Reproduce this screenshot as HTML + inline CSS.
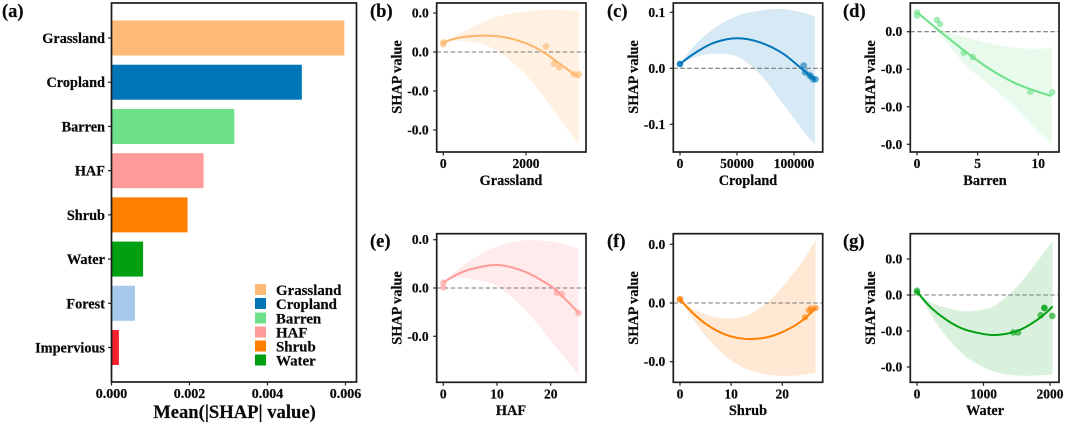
<!DOCTYPE html>
<html lang="en">
<head>
<meta charset="utf-8">
<title>SHAP chart</title>
<style>
html,body{margin:0;padding:0;background:#fff;width:1065px;height:424px;overflow:hidden}
svg{display:block;filter:blur(0.35px)}
text{font-family:"Liberation Serif",serif;font-weight:bold;fill:#0a0a0a;stroke:#0a0a0a;stroke-width:0.2}
.frame{fill:none;stroke:#1c1c1c;stroke-width:1.7}
.panel-label{font-size:18.5px}
.axis-title{font-size:14.3px;text-anchor:middle}
.legend-text{font-size:14.9px}
</style>
</head>
<body>
<svg id="chart" width="1065" height="424" viewBox="0 0 1065 424" xmlns="http://www.w3.org/2000/svg">
  <g id="panel-a">
    <g id="marks-a"></g>
    <rect class="frame" x="111.5" y="3" width="245" height="379"/>
    <text class="panel-label" x="2" y="17">(a)</text>
    <text x="234.500" y="418" font-size="18.600" text-anchor="middle">Mean(|SHAP| value)</text>
    <g>
      <g><rect x="255" y="284" width="11" height="11" fill="#fdbb77"/><text class="legend-text" x="276" y="295">Grassland</text></g>
      <g><rect x="255" y="298" width="11" height="11" fill="#0075b8"/><text class="legend-text" x="276" y="309">Cropland</text></g>
      <g><rect x="255" y="312.500" width="11" height="11" fill="#6ee08a"/><text class="legend-text" x="276" y="323.500">Barren</text></g>
      <g><rect x="255" y="326.500" width="11" height="11" fill="#ff9a9a"/><text class="legend-text" x="276" y="337.500">HAF</text></g>
      <g><rect x="255" y="340.500" width="11" height="11" fill="#ff7f00"/><text class="legend-text" x="276" y="351.500">Shrub</text></g>
      <g><rect x="255" y="354.500" width="11" height="11" fill="#00a012"/><text class="legend-text" x="276" y="365.500">Water</text></g>
    </g>
  </g>

  <g>
    <g id="marks-b"></g>
    <rect class="frame" x="436.700" y="3" width="149.300" height="149"/>
    <text class="panel-label" x="370" y="17">(b)</text>
    <text class="axis-title" x="511" y="185">Grassland</text>
    <text class="axis-title" transform="translate(401.500 77) rotate(-90)">SHAP value</text>
  </g>
  <g>
    <g id="marks-c"></g>
    <rect class="frame" x="673.300" y="3" width="149.400" height="149"/>
    <text class="panel-label" x="607" y="17">(c)</text>
    <text class="axis-title" x="748" y="185">Cropland</text>
    <text class="axis-title" transform="translate(638 77) rotate(-90)">SHAP value</text>
  </g>
  <g>
    <g id="marks-d"></g>
    <rect class="frame" x="910.300" y="3" width="148.700" height="149"/>
    <text class="panel-label" x="843" y="17">(d)</text>
    <text class="axis-title" x="985" y="185">Barren</text>
    <text class="axis-title" transform="translate(875 77) rotate(-90)">SHAP value</text>
  </g>
  <g>
    <g id="marks-e"></g>
    <rect class="frame" x="436.700" y="233.700" width="149.300" height="148.600"/>
    <text class="panel-label" x="370" y="247">(e)</text>
    <text class="axis-title" x="511" y="415">HAF</text>
    <text class="axis-title" transform="translate(401.500 308) rotate(-90)">SHAP value</text>
  </g>
  <g>
    <g id="marks-f"></g>
    <rect class="frame" x="673.300" y="233.700" width="149.400" height="148.600"/>
    <text class="panel-label" x="607" y="247">(f)</text>
    <text class="axis-title" x="748" y="415">Shrub</text>
    <text class="axis-title" transform="translate(638 308) rotate(-90)">SHAP value</text>
  </g>
  <g>
    <g id="marks-g"></g>
    <rect class="frame" x="910.300" y="233.700" width="148.700" height="148.600"/>
    <text class="panel-label" x="843" y="247">(g)</text>
    <text class="axis-title" x="985" y="415">Water</text>
    <text class="axis-title" transform="translate(875 308) rotate(-90)">SHAP value</text>
  </g>
</svg>

<script>
// Panel (a)
const barCategories = ["Grassland","Cropland","Barren","HAF","Shrub","Water","Forest","Impervious"];
const barValues = [0.00597,0.00488,0.00315,0.00236,0.00195,0.00081,0.0006,0.00019];
const barColors = ["#fdbb77","#0075b8","#6ee08a","#ff9a9a","#ff7f00","#00a012","#a6c8ea","#f5222d"];
const barXTicks = [0,0.002,0.004,0.006];

// Panel (b) Grassland
const grasslandCurveX = [0,400,1000,1500,2000,2400,2800,3280];
const grasslandCurveY = [0.00239,0.00368,0.00419,0.00376,0.00222,0.00009,-0.0029,-0.00658];
const grasslandUpper = [0.00239,0.00479,0.00786,0.00957,0.01043,0.01077,0.01077,0.01051];
const grasslandLower = [0.00239,0.00291,0.00179,-0.0012,-0.0059,-0.01103,-0.01701,-0.02368];
const grasslandPointX = [0,0,2484,2677,2806,3161,3282];
const grasslandPointY = [0.00248,0.00197,0.00145,-0.00299,-0.00393,-0.00573,-0.00573];
const grasslandXTicks = [0,2000];
const grasslandYTicks = [0.01,0,-0.01,-0.02];

// Panel (c) Cropland
const croplandCurveX = [0,15000,30000,50000,70000,90000,108000,118500];
const croplandCurveY = [0.0077,0.0298,0.0458,0.0536,0.0464,0.0268,-0.003,-0.0208];
const croplandUpper = [0.0077,0.0458,0.0714,0.0935,0.103,0.106,0.0994,0.0923];
const croplandLower = [0.0077,0.0208,0.0262,0.0208,-0.0101,-0.0625,-0.1113,-0.1369];
const croplandPointX = [0,0,108480,109650,113450,114910,116960,119000];
const croplandPointY = [0.0077,0.0077,0.0048,-0.0071,-0.0119,-0.0149,-0.0196,-0.0196];
const croplandXTicks = [0,50000,100000];
const croplandYTicks = [0.1,0,-0.1];

// Panel (d) Barren
const barrenCurveX = [0,1,2,4,6,8,10,11.1];
const barrenCurveY = [0.00523,0.00248,-0.00018,-0.00532,-0.00994,-0.01358,-0.01606,-0.01712];
const barrenUpper = [0.00523,0.00293,0.00062,-0.00151,-0.00311,-0.00426,-0.00453,-0.00417];
const barrenLower = [0.00523,0.00222,-0.00115,-0.00887,-0.0142,-0.01996,-0.02662,-0.03];
const barrenPointX = [0,0,1.65,1.9,3.85,4.59,9.34,11.15];
const barrenPointY = [0.00515,0.00426,0.00311,0.00204,-0.00559,-0.00674,-0.01606,-0.01615];
const barrenXTicks = [0,5,10];
const barrenYTicks = [0,-0.01,-0.02,-0.03];

// Panel (e) HAF
const hafCurveX = [0,2.5,5,10,15,20,22,25.2];
const hafCurveY = [0.0011,0.00276,0.00386,0.00476,0.00345,0.00041,-0.00152,-0.00517];
const hafUpper = [0.0011,0.00366,0.00572,0.00862,0.00986,0.00966,0.00917,0.00814];
const hafLower = [0.0011,0.00207,0.00193,0.00041,-0.00428,-0.01083,-0.01359,-0.01807];
const hafPointX = [0,0,21.1,22.05,25.2];
const hafPointY = [0.0011,0.00014,-0.00097,-0.00124,-0.00517];
const hafXTicks = [0,10,20];
const hafYTicks = [0.01,0,-0.01];

// Panel (f) Shrub
const shrubCurveX = [0,2.5,5,8,11,14,18,22,24.5,26.5];
const shrubCurveY = [0.00063,-0.0017,-0.00352,-0.00506,-0.00591,-0.00614,-0.00562,-0.00409,-0.00256,-0.00085];
const shrubUpper = [0.00063,-0.00097,-0.00193,-0.00256,-0.00256,-0.0017,0.00085,0.00483,0.00784,0.01068];
const shrubLower = [0.00063,-0.00267,-0.00563,-0.00835,-0.01034,-0.01159,-0.01233,-0.01239,-0.01216,-0.01188];
const shrubPointX = [0,0,24.43,25.21,25.6,26.5];
const shrubPointY = [0.00063,0.00063,-0.00244,-0.00125,-0.00097,-0.00085];
const shrubXTicks = [0,10,20];
const shrubYTicks = [0.01,0,-0.01];

// Panel (g) Water
const waterCurveX = [0,200,400,600,800,1150,1500,1800,2040];
const waterCurveY = [0.00101,-0.00331,-0.00635,-0.00865,-0.01003,-0.01113,-0.01003,-0.00699,-0.00313];
const waterUpper = [0.00101,-0.00193,-0.00331,-0.00423,-0.00451,-0.00313,0.00221,0.00911,0.01509];
const waterLower = [0.00101,-0.00515,-0.01067,-0.01481,-0.01803,-0.02125,-0.02236,-0.02236,-0.02199];
const waterPointX = [0,0,1449,1519,1860,1915,1915,2035];
const waterPointY = [0.0012,0.00074,-0.0104,-0.0104,-0.00561,-0.00359,-0.00359,-0.0058];
const waterXTicks = [0,1000,2000];
const waterYTicks = [0.01,0,-0.01,-0.02];

const NS = "http://www.w3.org/2000/svg";
function scale(d0, d1, r0, r1) {
  return function (v) { return r0 + (v - d0) * (r1 - r0) / (d1 - d0); };
}
function make(parent, tag, attrs, name, txt) {
  const el = document.createElementNS(NS, tag);
  for (const k in attrs) el.setAttribute(k, attrs[k]);
  
  
  if (txt !== undefined) el.textContent = txt;
  parent.appendChild(el);
  return el;
}
// Hermite spline through the sampled points, with slopes taken along x.
function smooth(pts, move) {
  const n = pts.length;
  const m = [];
  for (let i = 1; i < n - 1; i++) {
    m[i] = (pts[i + 1][1] - pts[i - 1][1]) / (pts[i + 1][0] - pts[i - 1][0]);
  }
  m[0] = 2 * (pts[1][1] - pts[0][1]) / (pts[1][0] - pts[0][0]) - m[1];
  m[n - 1] = 2 * (pts[n - 1][1] - pts[n - 2][1]) / (pts[n - 1][0] - pts[n - 2][0]) - m[n - 2];
  let d = (move ? "M" : "L") + pts[0][0].toFixed(2) + " " + pts[0][1].toFixed(2);
  for (let i = 0; i < n - 1; i++) {
    const dx = (pts[i + 1][0] - pts[i][0]) / 3;
    d += "C" + (pts[i][0] + dx).toFixed(2) + " " + (pts[i][1] + m[i] * dx).toFixed(2) + " " +
      (pts[i + 1][0] - dx).toFixed(2) + " " + (pts[i + 1][1] - m[i + 1] * dx).toFixed(2) + " " +
      pts[i + 1][0].toFixed(2) + " " + pts[i + 1][1].toFixed(2);
  }
  return d;
}

// Bars
(function () {
  const g = document.getElementById("marks-a");
  const x = scale(0, 0.006, 111.5, 345.5);
  const rowCenter = scale(0, 7, 38, 347.5);
  barCategories.forEach(function (c, i) {
    const y = rowCenter(i);
    make(g, "rect", { x: x(0), y: y - 17.5, width: x(barValues[i]) - x(0), height: 35, fill: barColors[i] }, "bar-" + c.toLowerCase());
    make(g, "line", { x1: 108, x2: 111.5, y1: y, y2: y, stroke: "#222", "stroke-width": 1.2 }, "y-tick-" + c.toLowerCase());
    make(g, "text", { x: 105, y: y + 5, "text-anchor": "end", "font-size": 14.3 }, "y-label-" + c.toLowerCase(), c);
  });
  barXTicks.forEach(function (t) {
    make(g, "line", { x1: x(t), x2: x(t), y1: 382, y2: 385.5, stroke: "#222", "stroke-width": 1.2 }, "x-tick");
    make(g, "text", { x: x(t), y: 398, "text-anchor": "middle", "font-size": 14 }, "x-tick-label", t.toFixed(3));
  });
})();

// Dependence panels
function drawPanel(o) {
  const g = document.getElementById(o.id);
  const x = scale(o.xd[0], o.xd[1], o.xr[0], o.xr[1]);
  const y = scale(o.yd[0], o.yd[1], o.yr[0], o.yr[1]);
  const up = o.cx.map(function (v, i) { return [x(v), y(o.upper[i])]; });
  const lo = o.cx.map(function (v, i) { return [x(v), y(o.lower[i])]; }).reverse();
  make(g, "path", { d: smooth(up, true) + smooth(lo, false) + "Z", fill: o.color, "fill-opacity": o.band }, "confidence-band");
  make(g, "line", { x1: o.left, x2: o.right, y1: y(0), y2: y(0), stroke: "#777", "stroke-width": 1.1, "stroke-dasharray": "4.5 2.5" }, "zero-reference-line");
  o.px.forEach(function (v, i) {
    make(g, "circle", { cx: x(v), cy: y(o.py[i]), r: 3.3, fill: o.color, "fill-opacity": 0.6 }, "scatter-point");
  });
  make(g, "path", { d: smooth(o.cx.map(function (v, i) { return [x(v), y(o.cy[i])]; }), true), fill: "none", stroke: o.color, "stroke-width": 2 }, "trend-line");
  o.xt.forEach(function (t) {
    make(g, "line", { x1: x(t), x2: x(t), y1: o.bottom, y2: o.bottom + 3.5, stroke: "#222", "stroke-width": 1.2 }, "x-tick");
    make(g, "text", { x: x(t), y: o.bottom + 16, "text-anchor": "middle", "font-size": 13.5 }, "x-tick-label", String(t));
  });
  o.yt.forEach(function (t) {
    make(g, "line", { x1: o.left - 3.5, x2: o.left, y1: y(t), y2: y(t), stroke: "#222", "stroke-width": 1.2 }, "y-tick");
    make(g, "text", { x: o.left - 8, y: y(t) + 4.5, "text-anchor": "end", "font-size": 13.5 }, "y-tick-label", t.toFixed(1));
  });
}

drawPanel({ id: "marks-b", color: "#fdb56b", band: 0.2, left: 436.7, right: 586, bottom: 152, xd: [0, 2000], xr: [443.3, 526], yd: [0, 0.01], yr: [52, 13],
  cx: grasslandCurveX, cy: grasslandCurveY, upper: grasslandUpper, lower: grasslandLower, px: grasslandPointX, py: grasslandPointY, xt: grasslandXTicks, yt: grasslandYTicks });
drawPanel({ id: "marks-c", color: "#0075b8", band: 0.16, left: 673.3, right: 822.7, bottom: 152, xd: [0, 100000], xr: [680, 794], yd: [0, 0.1], yr: [68.3, 12.3],
  cx: croplandCurveX, cy: croplandCurveY, upper: croplandUpper, lower: croplandLower, px: croplandPointX, py: croplandPointY, xt: croplandXTicks, yt: croplandYTicks });
drawPanel({ id: "marks-d", color: "#6ee08a", band: 0.16, left: 910.3, right: 1059, bottom: 152, xd: [0, 10], xr: [917, 1038.3], yd: [0, -0.03], yr: [31.7, 144.3],
  cx: barrenCurveX, cy: barrenCurveY, upper: barrenUpper, lower: barrenLower, px: barrenPointX, py: barrenPointY, xt: barrenXTicks, yt: barrenYTicks });
drawPanel({ id: "marks-e", color: "#ff9a9a", band: 0.2, left: 436.7, right: 586, bottom: 382.3, xd: [0, 20], xr: [443.3, 550.7], yd: [0, 0.01], yr: [288, 239.7],
  cx: hafCurveX, cy: hafCurveY, upper: hafUpper, lower: hafLower, px: hafPointX, py: hafPointY, xt: hafXTicks, yt: hafYTicks });
drawPanel({ id: "marks-f", color: "#ff7f00", band: 0.17, left: 673.3, right: 822.7, bottom: 382.3, xd: [0, 20], xr: [680, 782.3], yd: [0, 0.01], yr: [303, 244.3],
  cx: shrubCurveX, cy: shrubCurveY, upper: shrubUpper, lower: shrubLower, px: shrubPointX, py: shrubPointY, xt: shrubXTicks, yt: shrubYTicks });
drawPanel({ id: "marks-g", color: "#00a012", band: 0.15, left: 910.3, right: 1059, bottom: 382.3, xd: [0, 2000], xr: [917, 1050], yd: [0, 0.01], yr: [295, 259],
  cx: waterCurveX, cy: waterCurveY, upper: waterUpper, lower: waterLower, px: waterPointX, py: waterPointY, xt: waterXTicks, yt: waterYTicks });
</script>
</body>
</html>
